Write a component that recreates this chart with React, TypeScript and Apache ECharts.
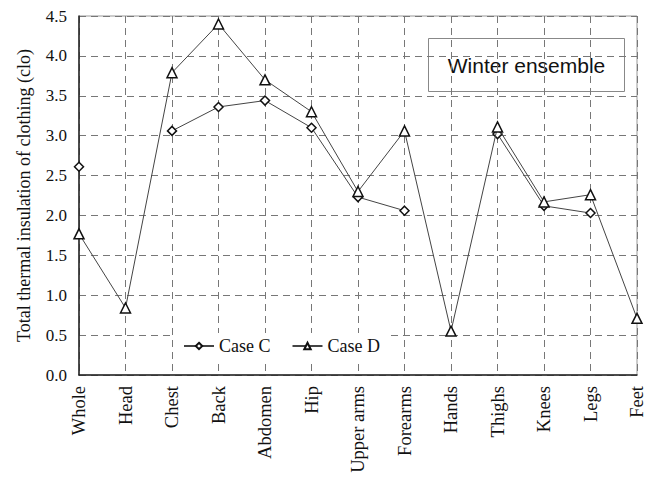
import React, { useEffect, useRef } from "react";
import * as echarts from "echarts";

const categories = ["Whole", "Head", "Chest", "Back", "Abdomen", "Hip", "Upper arms", "Forearms", "Hands", "Thighs", "Knees", "Legs", "Feet"];
const caseC: (number | null)[] = [2.61, null, 3.06, 3.36, 3.44, 3.1, 2.23, 2.06, null, 3.02, 2.12, 2.03, null];
const caseD: (number | null)[] = [1.77, 0.84, 3.79, 4.4, 3.7, 3.3, 2.3, 3.06, 0.55, 3.11, 2.17, 2.26, 0.71];
const yTicks = { min: 0, max: 4.5, interval: 0.5 };

const SERIF = "'Liberation Serif', 'Times New Roman', serif";

export default function App() {
  const ref = useRef<HTMLDivElement>(null);
  useEffect(() => {
    if (!ref.current) return;
    const chart = echarts.init(ref.current, null, { renderer: "svg" });
    chart.setOption({
      animation: false,
      backgroundColor: "#fff",
      grid: {
        left: 79,
        right: 13,
        top: 16,
        bottom: 102,
        containLabel: false,
        outerBoundsMode: "none",
        show: true,
        borderColor: "#999",
        borderWidth: 1,
      },
      legend: {
        left: 173,
        top: 333,
        backgroundColor: "#fff",
        padding: [4, 10],
        itemWidth: 30,
        itemHeight: 8,
        itemGap: 21,
        textStyle: { fontFamily: SERIF, fontSize: 18, color: "#111" },
        data: ["Case C", "Case D"],
      },
      xAxis: {
        type: "category",
        data: categories,
        boundaryGap: false,
        axisLine: { lineStyle: { color: "#222", width: 1.5 } },
        axisTick: { show: false },
        axisLabel: {
          rotate: 90,
          interval: 0,
          margin: 11,
          fontFamily: SERIF,
          fontSize: 18.5,
          color: "#111",
        },
        splitLine: { show: true, lineStyle: { type: [7, 5], color: "#777", width: 1 } },
      },
      yAxis: {
        type: "value",
        min: yTicks.min,
        max: yTicks.max,
        interval: yTicks.interval,
        name: "Total thermal insulation of clothing (clo)",
        nameLocation: "middle",
        nameGap: 46,
        nameTextStyle: { fontFamily: SERIF, fontSize: 18, color: "#111" },
        axisLine: { show: true, lineStyle: { color: "#222", width: 1.5 } },
        axisTick: { show: false },
        axisLabel: {
          fontFamily: SERIF,
          fontSize: 17,
          color: "#111",
          margin: 12,
          formatter: (v: number) => v.toFixed(1),
        },
        splitLine: { show: true, lineStyle: { type: [7, 5], color: "#777", width: 1 } },
      },
      series: [
        {
          name: "Case C",
          type: "line",
          data: caseC,
          connectNulls: false,
          symbol: "diamond",
          symbolSize: 9,
          lineStyle: { color: "#444", width: 1 },
          itemStyle: { color: "#fff", borderColor: "#111", borderWidth: 1.5 },
          z: 3,
        },
        {
          name: "Case D",
          type: "line",
          data: caseD,
          connectNulls: false,
          symbol: "triangle",
          symbolSize: 10,
          lineStyle: { color: "#444", width: 1 },
          itemStyle: { color: "#fff", borderColor: "#111", borderWidth: 1.5 },
          z: 4,
        },
      ],
      graphic: [
        {
          type: "group",
          left: 428,
          top: 38,
          children: [
            {
              type: "rect",
              shape: { x: 0, y: 0, width: 196, height: 53 },
              style: { fill: "#fff", stroke: "#888", lineWidth: 1 },
            },
            {
              type: "text",
              x: 98,
              y: 27,
              style: {
                text: "Winter ensemble",
                fontFamily: "'Liberation Sans', Arial, sans-serif",
                fontSize: 21,
                fill: "#111",
                align: "center",
                verticalAlign: "middle",
              },
            },
          ],
        },
      ],
    });
    return () => chart.dispose();
  }, []);
  return (
    <div
      ref={ref}
      style={{ position: "absolute", left: 0, top: 0, width: 650, height: 477 }}
    />
  );
}
